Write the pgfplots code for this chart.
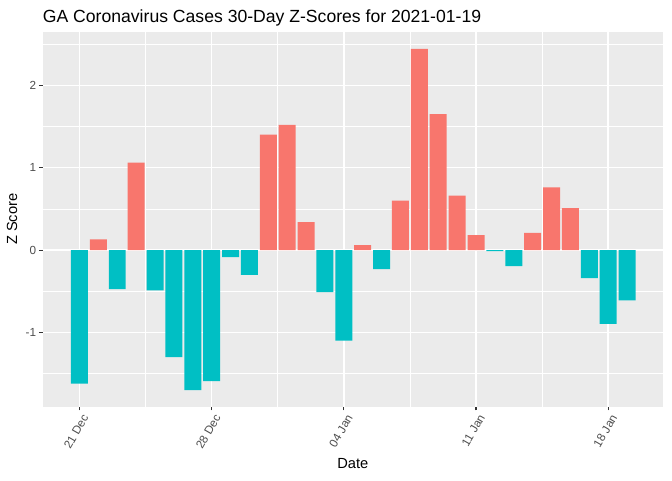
\documentclass[border=0pt]{standalone}
\usepackage{fontspec}
\setmainfont{Liberation Sans}
\usepackage{pgfplots}
\pgfplotsset{compat=1.18}
\definecolor{posred}{HTML}{F8766D}
\definecolor{negteal}{HTML}{00BFC4}
\definecolor{panelbg}{HTML}{EBEBEB}
\definecolor{gray30}{HTML}{4D4D4D}
\definecolor{gray20}{HTML}{333333}

% day index 0 = 21 Dec 2020
\pgfplotstableread{
day z
1 0.13
3 1.06
10 1.40
11 1.52
12 0.34
15 0.06
17 0.60
18 2.44
19 1.65
20 0.66
21 0.18
24 0.21
25 0.76
26 0.51
}\pos
\pgfplotstableread{
day z
0 -1.62
2 -0.475
4 -0.49
5 -1.30
6 -1.70
7 -1.59
8 -0.085
9 -0.30
13 -0.51
14 -1.10
16 -0.23
22 -0.012
23 -0.195
27 -0.34
28 -0.895
29 -0.61
}\neg

\begin{document}
\begin{tikzpicture}
\path[use as bounding box] (-32pt,-55pt) rectangle (472pt,305pt);
\begin{axis}[
    name=ax,
    at={(0,0)}, anchor=south west,
    scale only axis,
    width=465.2pt, height=281.25pt,
    xmin=-1.95, xmax=30.9,
    ymin=-1.90, ymax=2.65,
    axis line style={draw=none},
    axis background/.style={fill=panelbg},
    xtick={0,7,14,21,28},
    xticklabels={21 Dec,28 Dec,04 Jan,11 Jan,18 Jan},
    minor xtick={3.5,10.5,17.5,24.5},
    ytick={-1,0,1,2},
    minor ytick={-1.5,-0.5,0.5,1.5,2.5},
    grid=both,
    major grid style={white, line width=1.1pt},
    minor grid style={white, line width=0.55pt},
    tick align=outside,
    major tick length=2.75pt,
    minor tick length=0pt,
    tick style={gray20, line width=0.8pt},
    xtick pos=bottom, ytick pos=left,
    /pgf/number format/assume math mode=true,
    ticklabel style={font=\fontsize{8.8}{10}\selectfont, text=gray30},
    xticklabel style={rotate=60, anchor=north east, inner sep=1pt, yshift=-1.5pt},
    yticklabel style={inner sep=2pt},
    ybar, bar width=0.9, bar shift=0pt,
]
\addplot[fill=posred, draw=none] table[x=day, y=z] {\pos};
\addplot[fill=negteal, draw=none] table[x=day, y=z] {\neg};
\end{axis}
\node[anchor=base west, inner sep=0pt, font=\fontsize{13.2}{15}\selectfont] at ([yshift=6.75pt]ax.north west) {GA Coronavirus Cases 30-Day Z-Scores for 2021-01-19};
\node[rotate=90, font=\fontsize{11}{13}\selectfont] at ([xshift=-23pt]ax.west) {Z Score};
\node[font=\fontsize{11}{13}\selectfont] at ([yshift=-43pt]ax.south) {Date};
\end{tikzpicture}
\end{document}
